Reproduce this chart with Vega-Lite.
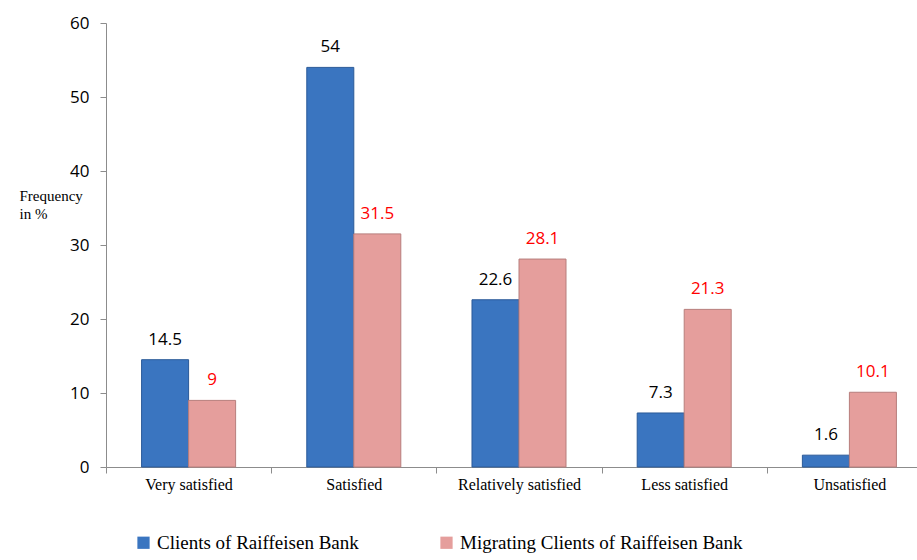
{
  "$schema": "https://vega.github.io/schema/vega-lite/v6.json",
  "autosize": {"type": "none"},
  "padding": {"left": 106, "top": 23, "right": 0, "bottom": 93},
  "width": 826,
  "height": 444,
  "background": "white",
  "config": {"view": {"stroke": null}},
  "data": {"values": [
    {"category": "Very satisfied", "series": "Clients of Raiffeisen Bank", "value": 14.5},
    {"category": "Very satisfied", "series": "Migrating Clients of Raiffeisen Bank", "value": 9},
    {"category": "Satisfied", "series": "Clients of Raiffeisen Bank", "value": 54},
    {"category": "Satisfied", "series": "Migrating Clients of Raiffeisen Bank", "value": 31.5},
    {"category": "Relatively satisfied", "series": "Clients of Raiffeisen Bank", "value": 22.6},
    {"category": "Relatively satisfied", "series": "Migrating Clients of Raiffeisen Bank", "value": 28.1},
    {"category": "Less satisfied", "series": "Clients of Raiffeisen Bank", "value": 7.3},
    {"category": "Less satisfied", "series": "Migrating Clients of Raiffeisen Bank", "value": 21.3},
    {"category": "Unsatisfied", "series": "Clients of Raiffeisen Bank", "value": 1.6},
    {"category": "Unsatisfied", "series": "Migrating Clients of Raiffeisen Bank", "value": 10.1}
  ]},
  "encoding": {
    "x": {
      "field": "category", "type": "nominal", "sort": null,
      "scale": {"paddingInner": 0, "paddingOuter": 0},
      "axis": {
        "title": null, "labelAngle": 0, "tickBand": "extent",
        "domainColor": "#8c8c8c", "tickColor": "#8c8c8c", "tickSize": 6,
        "labelFont": "Liberation Serif", "labelFontSize": 16, "labelColor": "#000000",
        "labelPadding": 3, "labelBaseline": "top", "labelLimit": 200
      }
    },
    "xOffset": {"field": "series", "type": "nominal", "scale": {"paddingInner": 0, "paddingOuter": 0.757}},
    "y": {
      "field": "value", "type": "quantitative",
      "scale": {"domain": [0, 60], "nice": false},
      "axis": {
        "values": [0, 10, 20, 30, 40, 50, 60],
        "grid": false,
        "title": ["Frequency", "in %"],
        "titleAngle": 0, "titleAlign": "left", "titleBaseline": "middle",
        "titleX": -87, "titleY": 172,
        "titleFont": "Liberation Serif", "titleFontSize": 15, "titleFontWeight": "normal",
        "titleColor": "#000000", "titleLineHeight": 18,
        "domainColor": "#8c8c8c", "tickColor": "#8c8c8c", "tickSize": 6,
        "labelFont": "Open Sans", "labelFontSize": 17, "labelColor": "#000000", "labelPadding": 11
      }
    }
  },
  "layer": [
    {
      "mark": {"type": "bar", "strokeWidth": 1},
      "encoding": {
        "color": {
          "field": "series", "type": "nominal",
          "scale": {"range": ["#3a75c0", "#e59e9c"]},
          "legend": {
            "title": null, "orient": "none", "direction": "horizontal",
            "legendX": 28, "legendY": 510,
            "symbolType": "square", "symbolSize": 150, "symbolStrokeWidth": 0,
            "labelFont": "Liberation Serif", "labelFontSize": 19, "labelColor": "#000000",
            "labelLimit": 400, "labelOffset": 4, "columnPadding": 78
          }
        },
        "stroke": {
          "field": "series", "type": "nominal",
          "scale": {"range": ["#2b5a98", "#b77e7c"]},
          "legend": null
        }
      }
    },
    {
      "transform": [{"filter": "datum.series === 'Clients of Raiffeisen Bank'"}],
      "mark": {"type": "text", "font": "Open Sans", "fontSize": 17, "color": "#000000", "baseline": "middle", "dy": -20},
      "encoding": {"text": {"field": "value", "type": "quantitative"}}
    },
    {
      "transform": [{"filter": "datum.series === 'Migrating Clients of Raiffeisen Bank'"}],
      "mark": {"type": "text", "font": "Open Sans", "fontSize": 17, "color": "#ff0000", "baseline": "middle", "dy": -20},
      "encoding": {"text": {"field": "value", "type": "quantitative"}}
    }
  ]
}
